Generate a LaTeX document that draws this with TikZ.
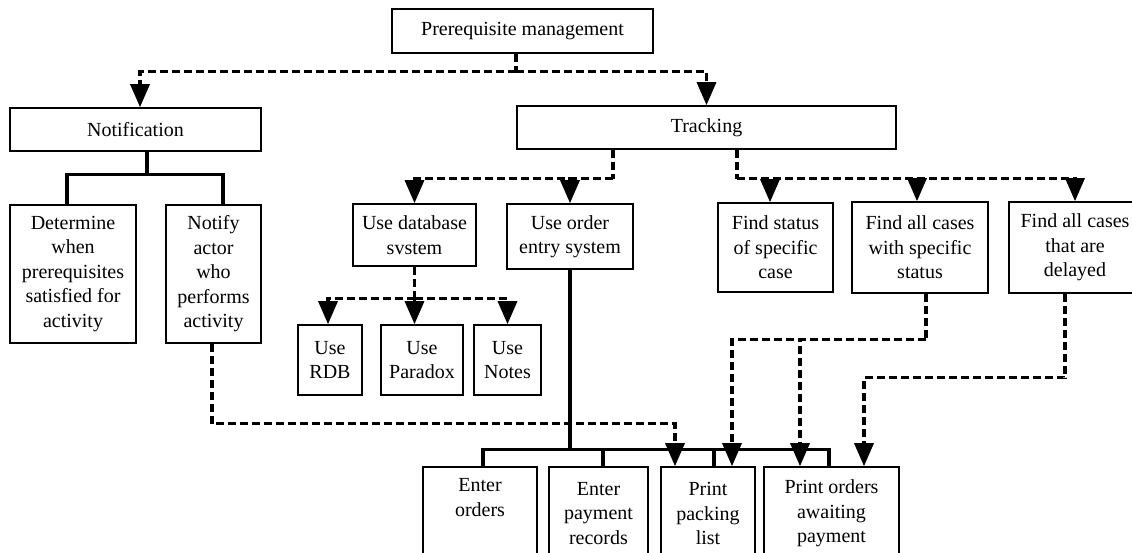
\documentclass[tikz,border=0pt]{standalone}
\usepackage{fontspec}
\setmainfont{Liberation Serif}
\usetikzlibrary{arrows.meta}
\begin{document}
\begin{tikzpicture}[x=1pt,y=-1pt,
  box/.style={draw, line width=1.6pt, align=center, inner sep=0pt,
    font=\fontsize{20}{24.5}\selectfont},
  dl/.style={line width=3.3pt, dash pattern=on 8pt off 4pt},
  da/.style={dl, -{Triangle[length=23pt,width=19pt]}},
  sl/.style={line width=3.3pt}]
\useasboundingbox (0,0) rectangle (1132,552);
\fill[white] (0,0) rectangle (1132,552);
\clip (0,0) rectangle (1132,552);
% nodes
\node[box, minimum width=261pt, minimum height=44pt] (pm) at (522.5,31) {Prerequisite management};
\node[box, minimum width=251pt, minimum height=43pt] (notif) at (135.5,129.5) {Notification};
\node[box, minimum width=379pt, minimum height=43pt] (trk) at (706.5,127.5) {Tracking};
\node[box, minimum width=126pt, minimum height=138pt] (det) at (73,274) {Determine\\when\\prerequisites\\satisfied for\\activity};
\node[box, minimum width=95pt, minimum height=138pt] (ntf) at (213.5,274) {Notify\\actor\\who\\performs\\activity};
\node[box, minimum width=123pt, minimum height=62pt] (udb) at (414.5,235) {Use database\\svstem};
\node[box, minimum width=126pt, minimum height=65pt] (uo) at (570,236.5) {Use order\\entry system};
\node[box, minimum width=115pt, minimum height=89pt] (fs) at (775.5,247.5) {Find status\\of specific\\case};
\node[box, minimum width=136pt, minimum height=91pt] (fw) at (920,247.5) {Find all cases\\with specific\\status};
\node[box, minimum width=132pt, minimum height=91pt] (fd) at (1075,247.5) {Find all cases\\that are\\delayed};
\node[box, minimum width=64pt, minimum height=70pt] (rdb) at (330,360) {Use\\RDB};
\node[box, minimum width=82pt, minimum height=70pt] (par) at (422,360) {Use\\Paradox};
\node[box, minimum width=67pt, minimum height=70pt] (nts) at (507.5,360) {Use\\Notes};
\node[box, minimum width=114pt, minimum height=93pt] (eo) at (480,513.5) {Enter\\orders\\\strut};
\node[box, minimum width=99pt, minimum height=93pt] (ep) at (598.5,513.5) {Enter\\payment\\records};
\node[box, minimum width=94pt, minimum height=93pt] (pp) at (708,513.5) {Print\\packing\\list};
\node[box, minimum width=135pt, minimum height=93pt] (po) at (831.5,513.5) {Print orders\\awaiting\\payment};
% top tree
\draw[dl] ([xshift=-6.5pt]pm.south) -- ++(0,18) coordinate (t1);
\draw[da] (t1) -| ([xshift=4.5pt]notif.north);
\draw[da] (t1) -| (trk.north);
% notification solid tree
\draw[sl] ([xshift=11.5pt]notif.south) -- ++(0,23) coordinate (t7);
\draw[sl] (t7) -| ([xshift=-6pt]det.north);
\draw[sl] (t7) -| ([xshift=9.5pt]ntf.north);
% tracking left
\draw[dl] ([xshift=-93.5pt]trk.south) -- ++(0,29) coordinate (t2);
\draw[da] (t2) -| (uo.north);
\draw[da] (t2) -| (udb.north);
% tracking right
\draw[dl] ([xshift=30.5pt]trk.south) -- ++(0,29) coordinate (t3);
\draw[da] (t3) -| ([xshift=-5.5pt]fs.north);
\draw[da] (t3) -| ([xshift=-3pt]fw.north);
\draw[da] (t3) -| (fd.north);
% use database
\draw[dl] (udb.south) -- ++(0,32) coordinate (t4);
\draw[da] (t4) -- (t4 |- par.north);
\draw[da] (t4) -| ([xshift=-2pt]rdb.north);
\draw[da] (t4) -| (nts.north);
% use order entry solid tree
\draw[sl] (uo.south) -- ++(0,180) coordinate (t5);
\draw[sl] (t5) -| ([xshift=3pt]eo.north);
\draw[sl] (t5) -| ([xshift=4.5pt]ep.north);
\draw[sl] (t5) -| ([xshift=6pt]pp.north);
\draw[sl] (t5) -| ([xshift=-2.5pt]po.north);
% notify -> print packing list
\draw[da] ([xshift=-1.5pt]ntf.south) -- ++(0,80) -| ([xshift=-33pt]pp.north);
% find all with specific status
\draw[dl] ([xshift=6pt]fw.south) -- ++(0,46) coordinate (t6);
\draw[da] (t6) -| ([xshift=24pt]pp.north);
\draw[da] (t6) -| ([xshift=-31.5pt]po.north);
% delayed
\draw[da] ([xshift=-10pt]fd.south) -- ++(0,84) -| ([xshift=32.5pt]po.north);
\end{tikzpicture}
\end{document}
